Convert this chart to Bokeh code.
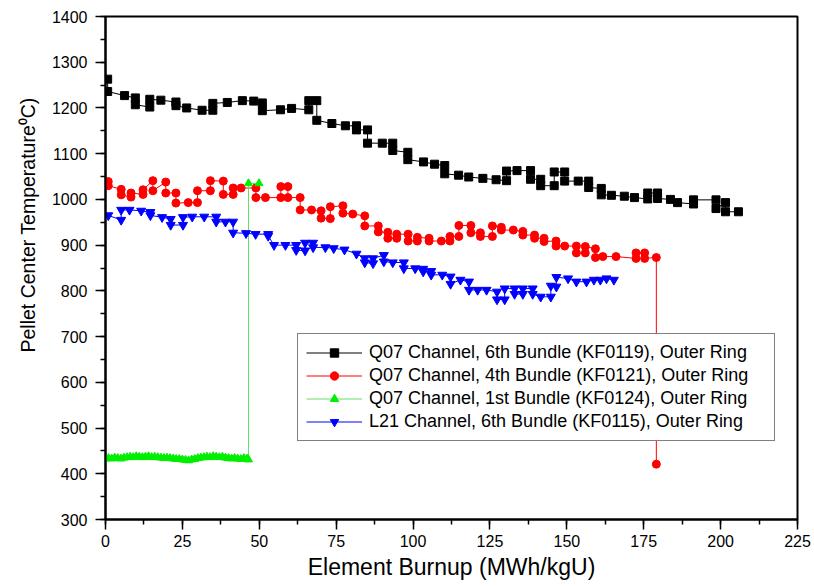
from bokeh.plotting import figure
from bokeh.models import Legend, LegendItem, Range1d, SingleIntervalTicker, Title
from bokeh.embed import file_html
from bokeh.resources import INLINE

# ---- data ----
kf0119_x = [0.7, 0.7, 6.2, 9.7, 9.7, 14.4, 14.4, 18.0, 22.9, 22.9, 26.4, 31.4, 34.9, 34.9, 39.6, 44.5,
            48.2, 51.0, 51.0, 56.9, 60.5, 66.1, 66.1, 68.7, 68.7, 73.6, 78.0, 81.6, 81.6, 85.2, 85.2,
            90.0, 93.4, 93.4, 98.3, 98.3, 103.4, 107.0, 110.3, 110.3, 114.8, 118.1, 122.7, 127.0,
            130.4, 130.4, 133.8, 138.2, 138.2, 141.5, 141.5, 145.9, 145.9, 149.3, 149.3, 153.7,
            157.1, 157.1, 161.2, 161.2, 164.5, 168.7, 172.0, 176.3, 176.3, 179.5, 179.5, 183.7,
            186.0, 191.2, 191.2, 198.5, 198.5, 201.6, 201.6, 205.8]
kf0119_y = [1263, 1236, 1227, 1222, 1207, 1202, 1219, 1217, 1213, 1205, 1200, 1195, 1195, 1210, 1212, 1216,
            1215, 1211, 1194, 1196, 1199, 1196, 1216, 1216, 1173, 1166, 1161, 1161, 1152, 1152, 1123,
            1123, 1123, 1107, 1103, 1087, 1082, 1077, 1074, 1056, 1053, 1049, 1046, 1043,
            1041, 1062, 1063, 1063, 1044, 1044, 1030, 1030, 1060, 1060, 1040, 1040,
            1040, 1026, 1024, 1010, 1009, 1007, 1004, 1001, 1014, 1014, 1002, 1000,
            993, 990, 999, 999, 980, 993, 973, 973]

kf0121_x = [0.9, 0.9, 5.1, 5.1, 8.3, 8.3, 12.2, 12.2, 15.4, 15.4, 19.6, 19.6, 22.9, 22.9, 26.9, 29.9, 29.9,
            34.1, 34.1, 38.3, 38.3, 41.5, 41.5, 44.1, 48.9, 48.9, 52.0, 57.0, 57.0, 59.3, 59.3, 63.3, 63.3,
            67.0, 70.1, 70.1, 73.1, 73.1, 77.2, 77.2, 80.4, 84.3, 84.3, 88.7, 88.7, 91.8, 91.8, 94.7, 94.7,
            98.4, 98.4, 101.4, 101.4, 105.2, 105.2, 109.2, 112.0, 112.0, 114.9, 114.9, 118.8, 118.8,
            121.9, 121.9, 125.8, 125.8, 128.7, 128.7, 132.6, 135.7, 135.7, 139.5, 139.5, 142.6, 142.6,
            146.5, 146.5, 149.3, 153.1, 153.1, 156.0, 156.0, 159.3, 159.3, 161.7, 166.0, 172.5, 172.5,
            175.3, 175.3, 179.1, 179.1]
kf0121_y = [1039, 1030, 1022, 1010, 1005, 1014, 1011, 1021, 1041, 1019, 1038, 1014, 1014, 992, 993, 993, 1019,
            1019, 1041, 1040, 1011, 1011, 1025, 1025, 1025, 1004, 1004, 1004, 1028, 1028, 1004, 1004, 977,
            977, 975, 959, 958, 984, 986, 970, 968, 964, 942, 942, 929, 928, 915, 915, 924,
            924, 909, 909, 917, 915, 909, 909, 909, 919, 919, 943, 943, 927,
            927, 919, 919, 942, 939, 933, 933, 930, 922, 922, 915, 915, 908,
            909, 898, 898, 898, 883, 883, 897, 892, 873, 875, 875, 871, 883,
            883, 871, 873, 421]

kf0124_x = [0, 1, 2, 3, 4, 5, 6, 7, 8, 9, 10, 11, 12, 13, 14, 15, 16, 17, 18, 19, 20, 21, 22, 23,
            24, 25, 26, 27, 28, 29, 30, 31, 32, 33, 34, 35, 36, 37, 38, 39, 40, 41, 42, 43, 44, 45,
            46, 46.5, 46.5, 49.9]
kf0124_y = [433, 434, 433, 435, 434, 433, 435, 436, 437, 436, 438, 437, 436, 437, 438, 436, 437, 436, 435, 434,
            435, 434, 433, 432, 432, 431, 430, 429, 431, 432, 434, 435, 436, 437, 436, 438, 437, 436,
            437, 435, 434, 433, 434, 433, 432, 434, 433, 431, 1035, 1035]

kf0115_x = [0.9, 5.1, 5.1, 7.8, 11.6, 14.6, 14.6, 18.4, 21.2, 21.2, 25.2, 25.2, 28.2, 32.1, 36.0, 36.0, 39.0,
            41.5, 41.5, 45.7, 48.8, 52.9, 52.9, 54.8, 58.5, 62.0, 62.0, 64.9, 64.9, 67.5, 67.5, 71.5, 74.2,
            77.7, 81.6, 84.3, 84.3, 87.0, 87.0, 90.5, 90.5, 93.4, 97.0, 97.0, 100.7, 103.3, 103.3, 105.9,
            105.9, 109.5, 112.2, 112.2, 115.4, 118.2, 118.2, 121.0, 123.9, 127.3, 127.3, 129.8, 129.8,
            133.0, 133.0, 135.7, 135.7, 138.9, 138.9, 141.5, 144.8, 144.8, 146.6, 146.6, 150.4, 153.1,
            156.4, 158.8, 160.9, 162.9, 165.3]
kf0115_y = [965, 955, 977, 977, 975, 972, 965, 961, 957, 944, 944, 961, 962, 962, 962, 951, 951,
            951, 927, 926, 924, 924, 920, 900, 900, 900, 889, 888, 905, 905, 895, 895, 893,
            890, 881, 871, 862, 860, 871, 878, 864, 862, 862, 849, 849, 848, 842, 843,
            835, 835, 831, 815, 824, 820, 802, 802, 802, 798, 781, 781, 805,
            805, 793, 793, 805, 805, 793, 787, 787, 811, 809, 830, 827, 820,
            820, 824, 824, 827, 824]

labels = ["Q07 Channel, 6th Bundle (KF0119), Outer Ring",
          "Q07 Channel, 4th Bundle (KF0121), Outer Ring",
          "Q07 Channel, 1st Bundle (KF0124), Outer Ring",
          "L21 Channel, 6th Bundle (KF0115), Outer Ring"]

x_title = "Element Burnup (MWh/kgU)"
y_title = "Pellet Center Temperature\u2070C)"

FONT = "Liberation Sans"

p = figure(width=814, height=586, x_range=Range1d(0, 225), y_range=Range1d(300, 1400),
           output_backend="svg", toolbar_location=None,
           min_border_left=105, min_border_right=17, min_border_top=16, min_border_bottom=67)
p.grid.visible = False
p.outline_line_color = "black"
p.outline_line_width = 2
p.background_fill_color = "white"
p.border_fill_color = "white"

p.xaxis.ticker = SingleIntervalTicker(interval=25, num_minor_ticks=2)
p.yaxis.ticker = SingleIntervalTicker(interval=100, num_minor_ticks=2)
for ax in (p.xaxis[0], p.yaxis[0]):
    ax.axis_line_width = 2
    ax.major_tick_in = 0
    ax.major_tick_out = 10
    ax.minor_tick_in = 0
    ax.minor_tick_out = 5
    ax.major_tick_line_width = 1.5
    ax.minor_tick_line_width = 1.5
    ax.major_label_text_font = FONT
    ax.major_label_text_font_size = "16px"
    ax.major_label_text_color = "black"
    ax.axis_label_text_font = FONT
    ax.axis_label_text_font_style = "normal"
    ax.axis_label_text_color = "black"

p.xaxis.axis_label = x_title
p.xaxis.axis_label_text_font_size = "23px"
p.xaxis.major_label_standoff = 5
p.xaxis.axis_label_standoff = 4
p.yaxis.major_label_standoff = 8

# y title: vertical title on the left, shifted up from the frame bottom as in the reference
ytitle = Title(text=y_title, align="left", offset=167, standoff=20,
               text_font=FONT, text_font_size="19.5px", text_font_style="normal",
               text_color="black")
p.add_layout(ytitle, "left")

series = [
    (kf0119_x, kf0119_y, "black", "square", 8),
    (kf0121_x, kf0121_y, "red", "circle", 8),
    (kf0124_x, kf0124_y, "#00EE00", "triangle", 8),
    (kf0115_x, kf0115_y, "blue", "inverted_triangle", 9),
]
items = []
for (xs, ys, col, mk, sz), lab in zip(series, labels):
    lc = "#66DD66" if col == "#00EE00" else col
    ln = p.line(xs, ys, line_color=lc, line_width=1)
    sc = p.scatter(xs, ys, marker=mk, size=sz, fill_color=col, line_color=col)
    items.append(LegendItem(label=lab, renderers=[ln, sc]))

legend = Legend(items=items, location=(192, 78))
legend.border_line_color = "black"
legend.border_line_width = 1.5
legend.background_fill_color = "white"
legend.background_fill_alpha = 1
legend.padding = 8
legend.spacing = 2
legend.margin = 0
legend.glyph_width = 56
legend.glyph_height = 21
legend.label_height = 21
legend.label_standoff = 7
legend.label_width = 397
legend.label_text_font = FONT
legend.label_text_font_size = "18px"
legend.label_text_color = "black"
p.add_layout(legend)

open("out.html", "w").write(file_html(p, INLINE))
